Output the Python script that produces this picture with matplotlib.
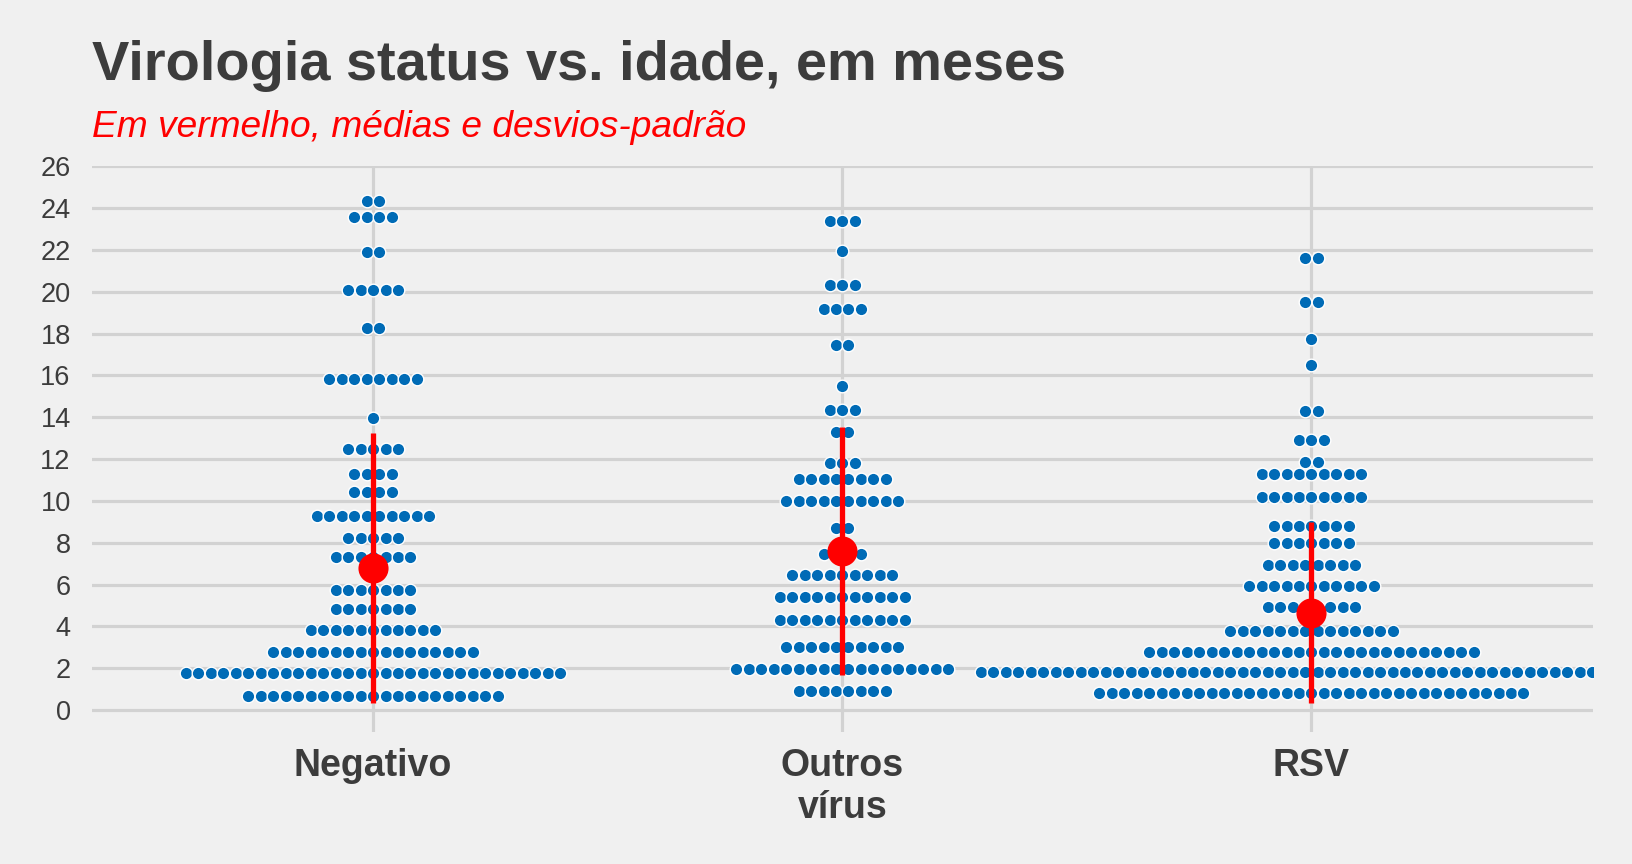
import matplotlib
matplotlib.use('Agg')
import matplotlib.pyplot as plt
import numpy as np

# ---- data ----
categories = ['Negativo', 'Outros\nvírus', 'RSV']

neg_y = [24.33, 23.56, 21.9, 20.08, 18.25, 15.84, 13.97, 12.47, 11.28, 10.43,
         9.30, 8.21, 7.31, 5.74, 4.85, 3.83, 2.79, 1.77, 0.67]
neg_n = [2, 4, 2, 5, 2, 8, 1, 5, 4, 4, 10, 5, 7, 7, 7, 11, 17, 31, 21]

out_y = [23.41, 21.96, 20.32, 19.19, 17.45, 15.50, 14.37, 13.3, 11.82, 11.04,
         10.0, 8.68, 7.46, 6.44, 5.42, 4.32, 3.03, 1.98, 0.92]
out_n = [3, 1, 3, 4, 2, 1, 3, 2, 3, 8, 10, 2, 4, 9, 11, 11, 10, 18, 8]

rsv_y = [21.63, 19.52, 17.74, 16.49, 14.32, 12.92, 11.85, 11.28, 10.18, 8.82,
         7.99, 6.94, 5.92, 4.93, 3.78, 2.79, 1.83, 0.80]
rsv_n = [2, 2, 1, 1, 2, 3, 2, 9, 9, 7, 7, 8, 11, 8, 14, 27, 54, 35]

means = [6.78, 7.60, 4.66]
sds = [6.47, 5.93, 4.35]

yticks = list(range(0, 27, 2))

# ---- style ----
BG = '#F0F0F0'
GRID = '#D2D2D2'
TXT = '#3C3C3C'
BLUE = '#006BB6'
RED = '#FF0000'
FONT = 'Liberation Sans'
dot_step = 0.02658  # horizontal spacing of stacked dots (x data units)

fig = plt.figure(figsize=(16.32, 8.64), dpi=100, facecolor=BG)
ax = fig.add_axes([91.5 / 1632, 1 - 731.7 / 864, (1593 - 91.5) / 1632, (731.7 - 166) / 864])
ax.set_facecolor(BG)

groups = [(neg_y, neg_n), (out_y, out_n), (rsv_y, rsv_n)]
for gi, (ys, ns) in enumerate(groups):
    xc = gi + 1
    xs, yy = [], []
    for y, n in zip(ys, ns):
        offs = (np.arange(n) - (n - 1) / 2.0) * dot_step
        xs.extend(xc + offs)
        yy.extend([y] * n)
    ax.scatter(xs, yy, s=82, color=BLUE, edgecolor='white', linewidth=1.0, zorder=3)

xpos = np.arange(1, len(categories) + 1)
ax.vlines(xpos, np.array(means) - np.array(sds), np.array(means) + np.array(sds),
          color=RED, linewidth=3.8, zorder=4)
ax.scatter(xpos, means, s=470, color=RED, zorder=5, linewidth=0)

ax.set_xlim(0.4, 3.6)
ax.set_ylim(-1.04, 26.02)
ax.set_xticks(xpos)
ax.set_xticklabels(categories, fontfamily=FONT, fontsize=27, fontweight='bold',
                   color=TXT, linespacing=1.2)
ax.set_yticks(yticks)
ax.set_yticklabels([str(t) for t in yticks], fontfamily=FONT, fontsize=19.5, color=TXT)
ax.tick_params(axis='both', length=0)
ax.tick_params(axis='y', pad=15)
ax.tick_params(axis='x', pad=12)
ax.grid(True, color=GRID, linewidth=2.3)
ax.set_axisbelow(True)
for sp in ax.spines.values():
    sp.set_visible(False)

fig.text(91.5 / 1632, 1 - 80 / 864, 'Virologia status vs. idade, em meses',
         fontfamily=FONT, fontsize=40.3, fontweight='bold', color=TXT, va='baseline', ha='left')
fig.text(91.5 / 1632, 1 - 137.3 / 864, 'Em vermelho, médias e desvios-padrão',
         fontfamily=FONT, fontsize=26.7, fontstyle='italic', color=RED, va='baseline', ha='left')

fig.savefig('out.png', dpi=100, facecolor=BG)
